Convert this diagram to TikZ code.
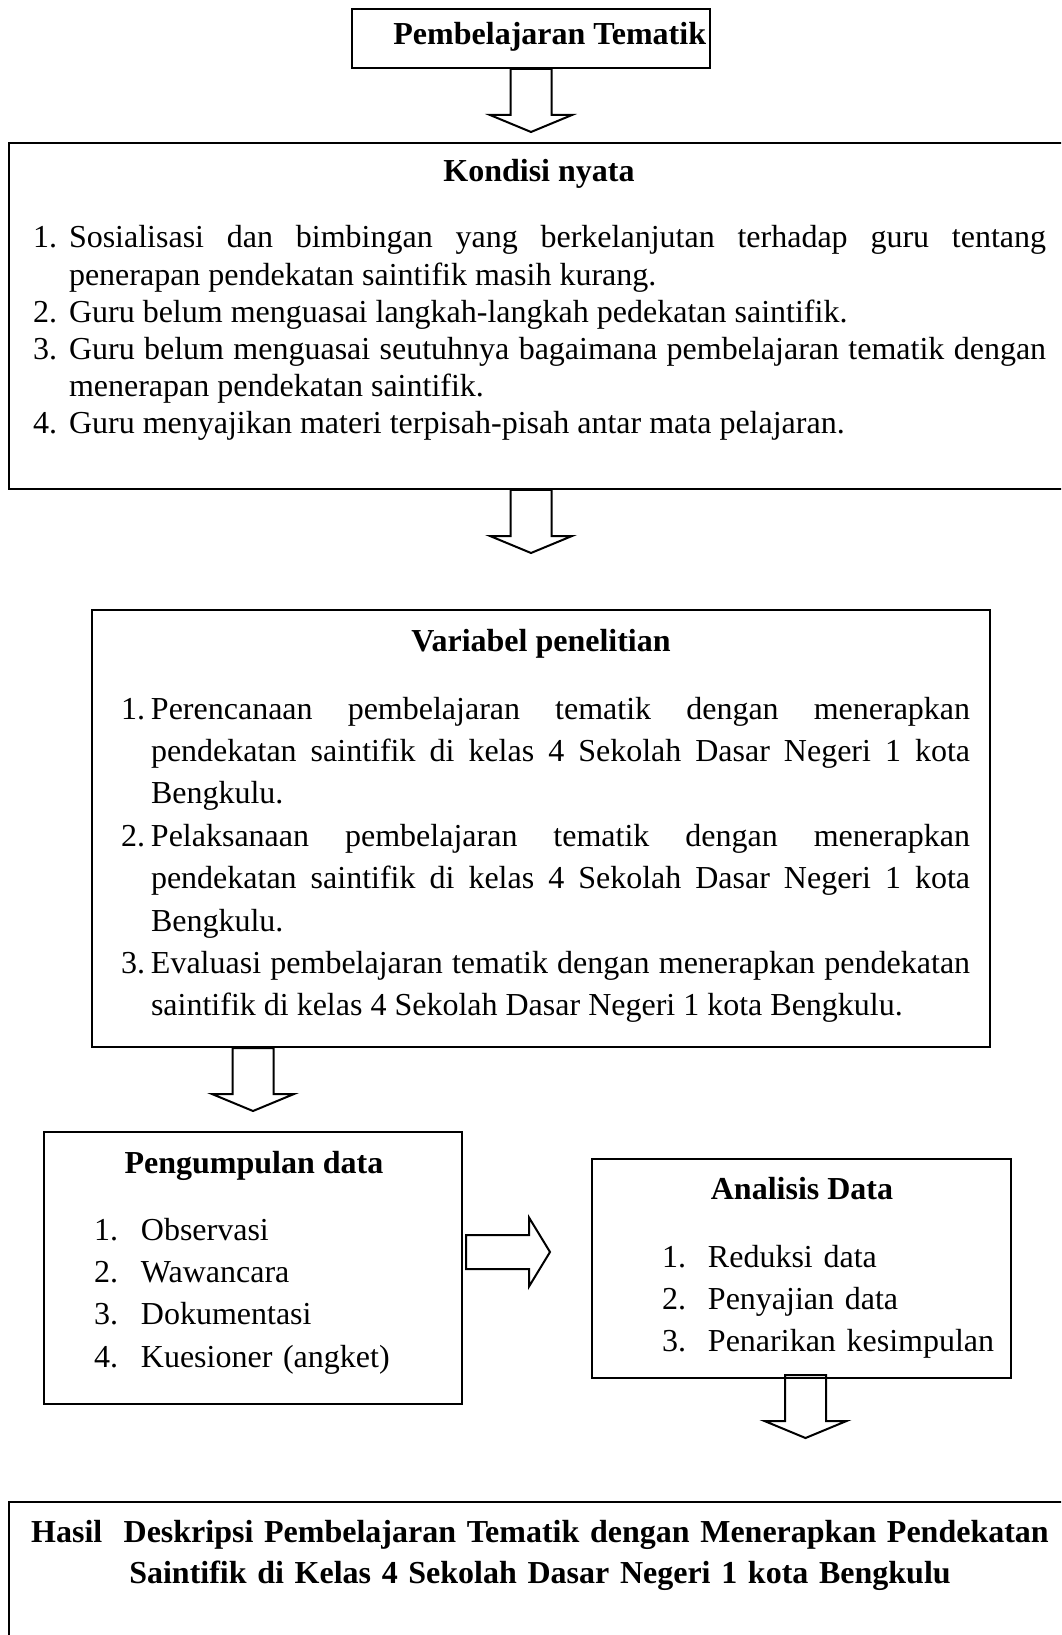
\documentclass[tikz,border=0pt]{standalone}
\usepackage{fontspec}
\setmainfont{Liberation Serif}
\usetikzlibrary{fit}
\newcommand{\numitem}[3]{\noindent\hangindent=#1\hangafter=1\makebox[#1][l]{#2}#3\par}
\hyphenpenalty=10000 \exhyphenpenalty=10000 \tolerance=9999
\begin{document}
\begin{tikzpicture}[x=0.375pt, y=-0.375pt, line width=0.75pt,
        box/.style={draw, inner sep=0pt},
        head/.style={inner sep=0pt, anchor=base, font=\bfseries\fontsize{12}{15.4}\selectfont},
        txt/.style={inner sep=0pt, anchor=base west},
        downarr/.pic={\draw (-20.5,0)--(-20.5,46)--(-41,46)--(0,63)--(41,46)--(20.5,46)--(20.5,0)--cycle;},
        rightarr/.pic={\draw (0,-17)--(63,-17)--(63,-34.5)--(84,0)--(63,34.5)--(63,17)--(0,17)--cycle;}]
            \path[use as bounding box, clip] (0,0) rectangle (1061,1635);
            \node[box, fit={(352,9) (710,68)}] (top) {};
            \node[box, fit={(9,143) (1090,489)}] (kondisi) {};
            \node[box, fit={(92,610) (990,1047)}] (var) {};
            \node[box, fit={(44,1132) (462,1404)}] (kumpul) {};
            \node[box, fit={(592,1159) (1011,1378)}] (analisis) {};
            \node[box, fit={(9,1502) (1090,1660)}] (hasil) {};
            \node[head, anchor=base east] (topT) at (707,45) {Pembelajaran Tematik};
            \node[head] (kondisiT) at (539,182) {Kondisi nyata};
            \node[txt, text width=379.9pt, align=justify, font=\fontsize{12}{13.95}\selectfont] (kondisiL) at (32,248) {%
            \numitem{13.5pt}{1.}{Sosialisasi dan bimbingan yang berkelanjutan terhadap guru tentang\linebreak penerapan pendekatan saintifik masih kurang.}
            \numitem{13.5pt}{2.}{Guru belum menguasai langkah-langkah pedekatan saintifik.}
            \numitem{13.5pt}{3.}{Guru belum menguasai seutuhnya bagaimana pembelajaran tematik dengan\linebreak menerapan pendekatan saintifik.}
            \numitem{13.5pt}{4.}{Guru menyajikan materi terpisah-pisah antar mata pelajaran.}};
            \node[head] (varT) at (541,651) {Variabel penelitian};
            \node[txt, text width=318.4pt, align=justify, font=\fontsize{12}{15.9}\selectfont] (varL) at (120,719) {%
            \numitem{11.25pt}{1.}{Perencanaan pembelajaran tematik dengan menerapkan\linebreak pendekatan saintifik di kelas 4 Sekolah Dasar Negeri 1 kota\linebreak Bengkulu.}
            \numitem{11.25pt}{2.}{Pelaksanaan pembelajaran tematik dengan menerapkan\linebreak pendekatan saintifik di kelas 4 Sekolah Dasar Negeri 1 kota\linebreak Bengkulu.}
            \numitem{11.25pt}{3.}{Evaluasi pembelajaran tematik dengan menerapkan pendekatan\linebreak saintifik di kelas 4 Sekolah Dasar Negeri 1 kota Bengkulu.}};
            \node[head] (kumpulT) at (254,1173) {Pengumpulan data};
            \node[txt, text width=140pt, align=left, font=\fontsize{12}{15.9}\selectfont] (kumpulL) at (93,1240) {%
            \numitem{17.6pt}{1.}{Observasi}
            \numitem{17.6pt}{2.}{Wawancara}
            \numitem{17.6pt}{3.}{Dokumentasi}
            \numitem{17.6pt}{4.}{Kuesioner (angket)}};
            \node[head] (analisisT) at (802,1199) {Analisis Data};
            \node[txt, text width=140pt, align=left, font=\fontsize{12}{15.9}\selectfont] (analisisL) at (661,1267) {%
            \numitem{17.25pt}{1.}{Reduksi data}
            \numitem{17.25pt}{2.}{Penyajian data}
            \numitem{17.25pt}{3.}{Penarikan kesimpulan}};
            \node[head, text width=390pt, align=center] (hasilT) at (540,1542) {Hasil\ \ Deskripsi Pembelajaran Tematik dengan Menerapkan Pendekatan\\ Saintifik di Kelas 4 Sekolah Dasar Negeri 1 kota Bengkulu};
            \pic at (top.south) {downarr};
            \pic at (kondisi.south -| top.south) {downarr};
            \pic at (var.south -| kumpul.north) {downarr};
            \pic at ([shift={(3,-16)}]kumpul.east) {rightarr};
            \pic at ([shift={(4,-4)}]analisis.south) {downarr};
        \end{tikzpicture}
\end{document}
